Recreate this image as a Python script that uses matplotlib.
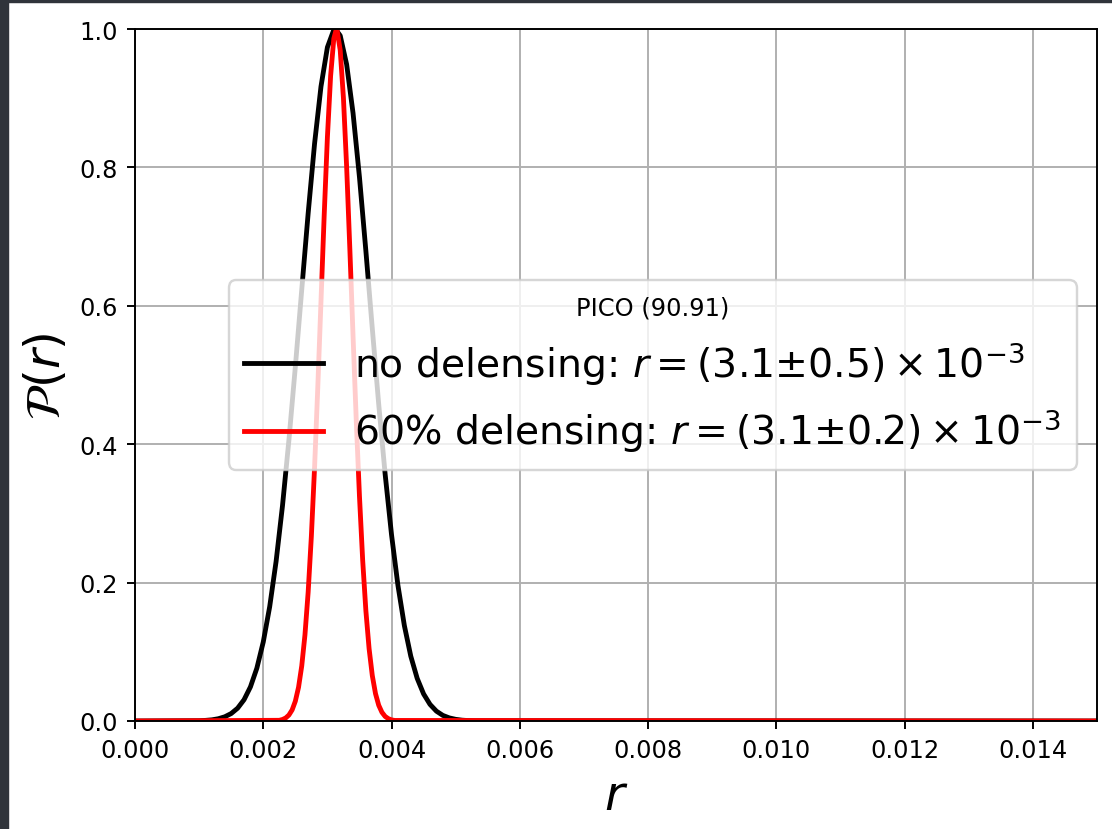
import matplotlib
matplotlib.use('Agg')
import matplotlib.pyplot as plt
from matplotlib.patches import Rectangle

# values (r, P(r))
r_nodel = [0.0, 0.0010, 0.0011, 0.0012, 0.0013, 0.0014, 0.0015, 0.0016, 0.0017, 0.0018,
           0.0019, 0.0020, 0.0021, 0.0022, 0.0023, 0.0024, 0.0025, 0.0026, 0.0027,
           0.0028, 0.0029, 0.0030, 0.0031, 0.003125, 0.0032, 0.0033, 0.0034, 0.0035,
           0.0036, 0.0037, 0.0038, 0.0039, 0.0040, 0.0041, 0.0042, 0.0043, 0.0044,
           0.0045, 0.0046, 0.0047, 0.0048, 0.0049, 0.0050, 0.0051, 0.0052, 0.0053, 0.015]
P_nodel = [0.0, 0.0004, 0.0009, 0.0017, 0.0033, 0.0061, 0.0108, 0.0185, 0.0307, 0.0493,
           0.0763, 0.1142, 0.1651, 0.2306, 0.3113, 0.4061, 0.5118, 0.6234, 0.7337,
           0.8344, 0.9169, 0.9736, 0.9989, 1.0, 0.9904, 0.9488, 0.8784, 0.7858,
           0.6792, 0.5673, 0.4578, 0.3570, 0.2691, 0.1959, 0.1379, 0.0937, 0.0616,
           0.0391, 0.0240, 0.0142, 0.0081, 0.0045, 0.0024, 0.0012, 0.0006, 0.0003, 0.0]

r_del = [0.0, 0.00225, 0.00230, 0.00235, 0.00240, 0.00245, 0.00250, 0.00255, 0.00260,
         0.00265, 0.00270, 0.00275, 0.00280, 0.00285, 0.00290, 0.00295, 0.00300,
         0.00305, 0.00310, 0.00314, 0.00315, 0.00320, 0.00325, 0.00330, 0.00335,
         0.00340, 0.00345, 0.00350, 0.00355, 0.00360, 0.00365, 0.00370, 0.00375,
         0.00380, 0.00385, 0.00390, 0.00395, 0.00400, 0.00405, 0.015]
P_del = [0.0, 0.0010, 0.0022, 0.0044, 0.0086, 0.0160, 0.0286, 0.0487, 0.0796,
         0.1244, 0.1863, 0.2671, 0.3666, 0.4819, 0.6065, 0.7310, 0.8436,
         0.9321, 0.9862, 1.0, 0.9991, 0.9692, 0.9003, 0.8007, 0.6819,
         0.5561, 0.4342, 0.3247, 0.2324, 0.1593, 0.1046, 0.0657, 0.0396,
         0.0228, 0.0126, 0.0066, 0.0034, 0.0016, 0.0008, 0.0]

lab_nodel = r'no delensing: $r = (3.1{\pm}0.5) \times 10^{-3}$'
lab_del = r'60% delensing: $r = (3.1{\pm}0.2) \times 10^{-3}$'
leg_title = 'PICO (90.91)'

dpi = 173.75
fig = plt.figure(figsize=(1112/dpi, 830/dpi), dpi=dpi)
ax = fig.add_axes([135/1112, 108/830, 962/1112, 692/830])

ax.plot(r_nodel, P_nodel, 'k-', linewidth=2, label=lab_nodel)
ax.plot(r_del, P_del, 'r-', linewidth=2, label=lab_del)

ax.set_xlim(0, 0.015)
ax.set_ylim(0, 1)
ax.set_xlabel(r'$r$', fontsize=20)
ax.set_ylabel(r'$\mathcal{P}(r)$', fontsize=20)
ax.grid(True)
ax.legend(loc='center right', title=leg_title, fontsize=16.3, title_fontsize=10)

# dark screenshot edge
fig.add_artist(Rectangle((0, 0), 8/1112, 1, transform=fig.transFigure, color='#30343b', zorder=10))
fig.add_artist(Rectangle((0, 1 - 3/830), 1, 3/830, transform=fig.transFigure, color='#30343b', zorder=10))

fig.savefig('out.png', dpi=dpi)
